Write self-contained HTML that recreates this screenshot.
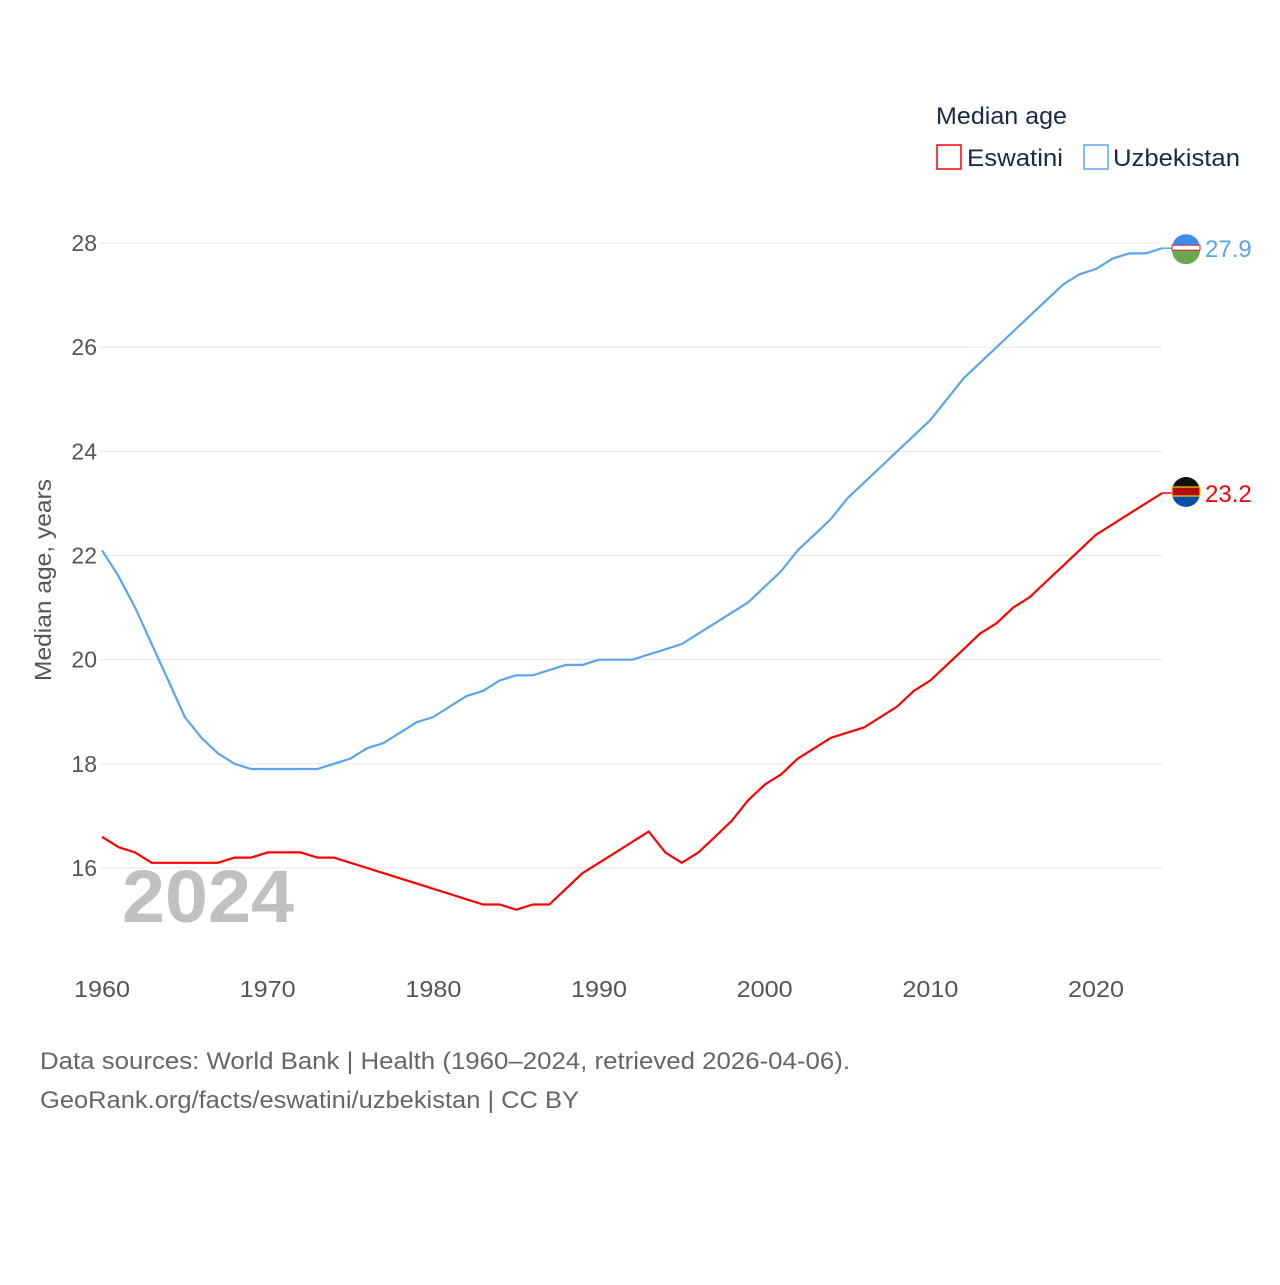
<!DOCTYPE html>
<html><head><meta charset="utf-8"><style>
body{margin:0;background:#fff;}
svg text{font-family:"Liberation Sans",sans-serif;}
</style></head><body>
<svg width="1280" height="1280" viewBox="0 0 1280 1280" xmlns="http://www.w3.org/2000/svg">
<g id="grid"></g>
<g id="yt"></g>
<g id="xt"></g>
<text x="208" y="922" font-size="74" font-weight="bold" fill="#c0c0c0" text-anchor="middle" textLength="172" lengthAdjust="spacingAndGlyphs">2024</text>
<g id="lines"></g>
<text transform="translate(51,580) rotate(-90)" font-size="23" fill="#555" text-anchor="middle" textLength="202" lengthAdjust="spacingAndGlyphs">Median age, years</text>
<text x="936" y="124" font-size="24" fill="#1a2a44" textLength="131" lengthAdjust="spacingAndGlyphs">Median age</text>
<g><rect x="937" y="145" width="24" height="24" fill="none" stroke="#f00" stroke-width="1.5"/><text x="967" y="166" font-size="24" fill="#1a2a44" textLength="96" lengthAdjust="spacingAndGlyphs">Eswatini</text></g>
<g><rect x="1084" y="145" width="24" height="24" fill="none" stroke="#5ba4ee" stroke-width="1.5"/><text x="1113" y="166" font-size="24" fill="#1a2a44" textLength="127" lengthAdjust="spacingAndGlyphs">Uzbekistan</text></g>
<text x="40" y="1069" font-size="24" fill="#666" textLength="810" lengthAdjust="spacingAndGlyphs">Data sources: World Bank | Health (1960–2024, retrieved 2026-04-06).</text>
<text x="40" y="1108" font-size="24" fill="#666" textLength="539" lengthAdjust="spacingAndGlyphs">GeoRank.org/facts/eswatini/uzbekistan | CC BY</text>
</svg>
<script>
const years=[];for(let y=1960;y<=2024;y++)years.push(y);
const uzbekistan=[22.1,21.6,21.0,20.3,19.6,18.9,18.5,18.2,18.0,17.9,17.9,17.9,17.9,17.9,18.0,18.1,18.3,18.4,18.6,18.8,18.9,19.1,19.3,19.4,19.6,19.7,19.7,19.8,19.9,19.9,20.0,20.0,20.0,20.1,20.2,20.3,20.5,20.7,20.9,21.1,21.4,21.7,22.1,22.4,22.7,23.1,23.4,23.7,24.0,24.3,24.6,25.0,25.4,25.7,26.0,26.3,26.6,26.9,27.2,27.4,27.5,27.7,27.8,27.8,27.9];
const eswatini=[16.6,16.4,16.3,16.1,16.1,16.1,16.1,16.1,16.2,16.2,16.3,16.3,16.3,16.2,16.2,16.1,16.0,15.9,15.8,15.7,15.6,15.5,15.4,15.3,15.3,15.2,15.3,15.3,15.6,15.9,16.1,16.3,16.5,16.7,16.3,16.1,16.3,16.6,16.9,17.3,17.6,17.8,18.1,18.3,18.5,18.6,18.7,18.9,19.1,19.4,19.6,19.9,20.2,20.5,20.7,21.0,21.2,21.5,21.8,22.1,22.4,22.6,22.8,23.0,23.2];
const yTicks=[16,18,20,22,24,26,28];
const xTicks=[1960,1970,1980,1990,2000,2010,2020];
const NS="http://www.w3.org/2000/svg";
const X=y=>102+(y-1960)*(994/60);
const Y=v=>243+(28-v)*(625/12);
function mk(t,a,p){const e=document.createElementNS(NS,t);for(const k in a)e.setAttribute(k,a[k]);p.appendChild(e);return e;}
const grid=document.getElementById('grid'),yt=document.getElementById('yt'),xt=document.getElementById('xt'),lines=document.getElementById('lines');
yTicks.forEach(v=>{
 const l=mk('line',{x1:100,x2:1162,y1:Y(v),y2:Y(v),stroke:'#e6e6e6','stroke-width':1},grid);
 
 
 const t=mk('text',{x:97,y:Y(v)+8,'font-size':23,fill:'#555','text-anchor':'end'},yt);t.textContent=v;
 
 
});
xTicks.forEach(v=>{
 const t=mk('text',{x:X(v),y:997,'font-size':23,fill:'#555','text-anchor':'middle',textLength:56,lengthAdjust:'spacingAndGlyphs'},xt);t.textContent=v;
 
 
});
function series(vals,color,name){
 const d=vals.map((v,i)=>(i?'L':'M')+X(years[i]).toFixed(1)+','+Y(v).toFixed(1)).join('');
 const p=mk('path',{d:d,fill:'none',stroke:color,'stroke-width':2.2,'stroke-linejoin':'round'},lines);
 
 
 const last=vals[vals.length-1],ly=Y(last),lx=X(years[years.length-1]);
 mk('line',{x1:lx,x2:1172,y1:ly,y2:ly,stroke:color,'stroke-width':1.5},lines);
 const c=mk('circle',{cx:1186,cy:ly,r:14,fill:color==='#f00'?'#0b4fa8':'#3a8ee6'},lines);
 
 
 if(color==='#f00'){mk('path',{d:`M1172,${ly-2}A14,14 0 0 1 1200,${ly-2}Z`,fill:'#111'},lines);mk('rect',{x:1172,y:ly-6,width:28,height:9,fill:'#b10c0c',stroke:'#f5d000','stroke-width':1.2},lines);}
 else{mk('path',{d:`M1172,${ly+2}A14,14 0 0 0 1200,${ly+2}Z`,fill:'#6aa84f'},lines);mk('rect',{x:1172,y:ly-3,width:28,height:5,fill:'#fff',stroke:'#d22','stroke-width':1},lines);}
 const t=mk('text',{x:1205,y:ly+9,'font-size':24,fill:color},lines);t.textContent=last.toFixed(1);
 
 
}
series(uzbekistan,'#5ba4ee','uzbekistan');
series(eswatini,'#f00','eswatini');
</script>
</body></html>
